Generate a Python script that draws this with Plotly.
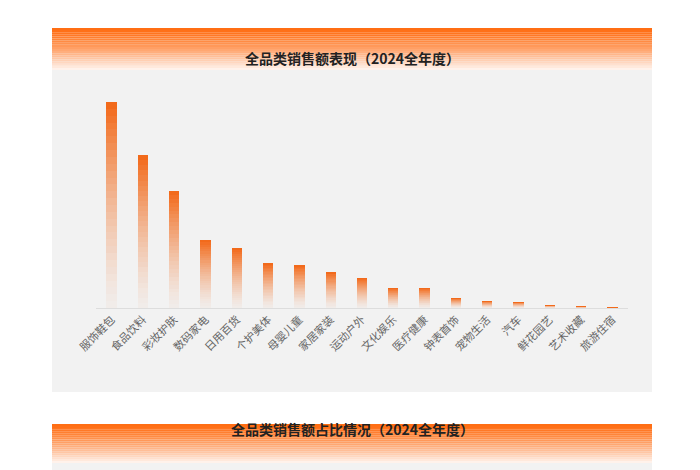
import plotly.graph_objects as go

categories = ["服饰鞋包","食品饮料","彩妆护肤","数码家电","日用百货","个护美体","母婴儿童","家居家装",
              "运动户外","文化娱乐","医疗健康","钟表首饰","宠物生活","汽车","鲜花园艺","艺术收藏","旅游住宿"]
sales = [206, 153, 117, 68, 60, 45, 43, 36, 30, 20, 20, 10, 7, 6, 3, 1.2, 0.4]

W, H = 700, 470
OFF = 8  # page body margin
def py(px):
    return 1 - (px - OFF) / H
def pxx(px):
    return (px - OFF) / W

fig = go.Figure()
N = 30
for i in range(N):
    a = 0.03 + 0.97 * ((i + 1) / N) ** 1.4
    fig.add_trace(go.Bar(
        x=categories, y=[v / N for v in sales],
        marker=dict(color=f"rgba(242,106,27,{a:.3f})", line=dict(width=0)),
        width=0.33, hoverinfo="skip", showlegend=False))

shapes = []
shapes.append(dict(type="rect", xref="paper", yref="paper", x0=pxx(52), x1=pxx(652), y0=py(392), y1=py(40),
                   fillcolor="#f2f2f2", line=dict(width=0), layer="below"))
shapes.append(dict(type="rect", xref="paper", yref="paper", x0=pxx(52), x1=pxx(652), y0=0, y1=py(440),
                   fillcolor="#f2f2f2", line=dict(width=0), layer="below"))
def header(top, bottom):
    n = 20
    h = (bottom - top) / n
    for k in range(n):
        t = k / (n - 1)
        g = int(110 + (242 - 110) * t ** 1.3)
        b = int(20 + (235 - 20) * t ** 1.3)
        shapes.append(dict(type="rect", xref="paper", yref="paper", x0=pxx(52), x1=pxx(652),
                           y0=py(top + (k + 1) * h), y1=py(top + k * h),
                           fillcolor=f"rgb(255,{g},{b})", line=dict(width=0), layer="below"))
header(28, 70)
header(424, 463)

fig.update_layout(
    width=W, height=H, margin=dict(l=0, r=0, t=0, b=0, autoexpand=False),
    paper_bgcolor="white", plot_bgcolor="rgba(0,0,0,0)",
    barmode="stack", shapes=shapes,
    font=dict(family="Noto Sans CJK SC"),
    xaxis=dict(domain=[pxx(96), pxx(628)], range=[-0.5, 16.5], tickangle=-45, automargin=False,
               tickfont=dict(size=11, color="#666"), showline=True, linecolor="#dddddd",
               ticks="", showgrid=False),
    yaxis=dict(domain=[py(308), py(80)], range=[0, 228], visible=False, automargin=False),
    annotations=[
        dict(text="<b>全品类销售额表现（2024全年度）</b>", xref="paper", yref="paper", x=pxx(352), y=py(46),
             showarrow=False, font=dict(size=14, color="#222")),
        dict(text="<b>全品类销售额占比情况（2024全年度）</b>", xref="paper", yref="paper", x=pxx(352), y=py(441),
             showarrow=False, font=dict(size=14, color="#222")),
    ],
)
fig.write_html("out.html")
